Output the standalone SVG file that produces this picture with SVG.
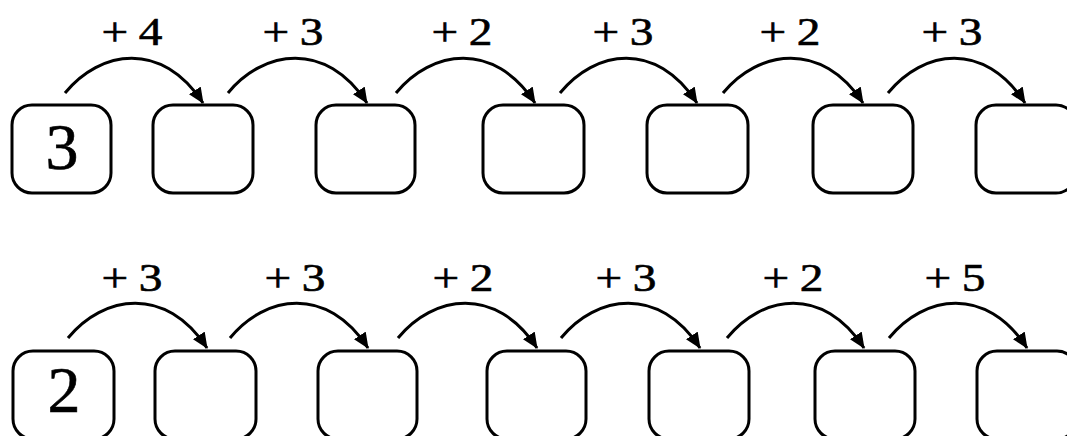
<svg xmlns="http://www.w3.org/2000/svg" width="1067" height="436" viewBox="0 0 1067 436">
<style>
.box{fill:#fff;stroke:#000;stroke-width:3}
.arc{fill:none;stroke:#000;stroke-width:3}
.lbl{font-family:"Liberation Serif","Times New Roman",serif;font-size:40px;fill:#000;stroke:#000;stroke-width:0.6;text-anchor:middle;word-spacing:-1px}
.num{font-family:"Liberation Serif","Times New Roman",serif;font-size:66px;fill:#000;stroke:#000;stroke-width:0.6;text-anchor:middle}
</style>
<defs>
<marker id="ah" viewBox="0 0 16 14" refX="15" refY="7" markerWidth="16" markerHeight="14" markerUnits="userSpaceOnUse" orient="auto">
<path d="M0,0 L16,7 L0,14 z" fill="#000"/>
</marker>
</defs>
<rect width="1067" height="436" fill="#fff"/>
<g id="connectors">
<path class="arc" marker-end="url(#ah)" d="M65,93 C100,50 162,40 203,103"/>
<path class="arc" marker-end="url(#ah)" d="M228,93 C263,50 326,40 367,103"/>
<path class="arc" marker-end="url(#ah)" d="M396,93 C431,50 494,40 535,103"/>
<path class="arc" marker-end="url(#ah)" d="M560,93 C595,50 656,40 697,103"/>
<path class="arc" marker-end="url(#ah)" d="M723,93 C758,50 822,40 863,103"/>
<path class="arc" marker-end="url(#ah)" d="M888,93 C923,50 984,40 1025,103"/>
<path class="arc" marker-end="url(#ah)" d="M68,338 C103,295 166,285 207,348"/>
<path class="arc" marker-end="url(#ah)" d="M230,338 C265,295 327,285 368,348"/>
<path class="arc" marker-end="url(#ah)" d="M398,338 C433,295 496,285 537,348"/>
<path class="arc" marker-end="url(#ah)" d="M561,338 C596,295 659,285 700,348"/>
<path class="arc" marker-end="url(#ah)" d="M727,338 C762,295 823,285 864,348"/>
<path class="arc" marker-end="url(#ah)" d="M889,338 C924,295 986,285 1027,348"/>
</g>
<g id="labels">
<text class="lbl" x="132" y="45" textLength="61" lengthAdjust="spacingAndGlyphs">+ 4</text>
<text class="lbl" x="293" y="45" textLength="61" lengthAdjust="spacingAndGlyphs">+ 3</text>
<text class="lbl" x="462" y="45" textLength="61" lengthAdjust="spacingAndGlyphs">+ 2</text>
<text class="lbl" x="623" y="45" textLength="61" lengthAdjust="spacingAndGlyphs">+ 3</text>
<text class="lbl" x="790" y="45" textLength="61" lengthAdjust="spacingAndGlyphs">+ 2</text>
<text class="lbl" x="952" y="45" textLength="61" lengthAdjust="spacingAndGlyphs">+ 3</text>
<text class="lbl" x="132" y="291" textLength="61" lengthAdjust="spacingAndGlyphs">+ 3</text>
<text class="lbl" x="295" y="291" textLength="61" lengthAdjust="spacingAndGlyphs">+ 3</text>
<text class="lbl" x="463" y="291" textLength="61" lengthAdjust="spacingAndGlyphs">+ 2</text>
<text class="lbl" x="626" y="291" textLength="61" lengthAdjust="spacingAndGlyphs">+ 3</text>
<text class="lbl" x="793" y="291" textLength="61" lengthAdjust="spacingAndGlyphs">+ 2</text>
<text class="lbl" x="955" y="291" textLength="61" lengthAdjust="spacingAndGlyphs">+ 5</text>
</g>
<g id="row1-n1"><rect class="box" x="12" y="105" width="99" height="88" rx="20"/><text class="num" x="62" y="169">3</text></g>
<g id="row1-n2"><rect class="box" x="153" y="105" width="100" height="88" rx="20"/></g>
<g id="row1-n3"><rect class="box" x="316" y="105" width="99" height="88" rx="20"/></g>
<g id="row1-n4"><rect class="box" x="483" y="105" width="101" height="88" rx="20"/></g>
<g id="row1-n5"><rect class="box" x="647" y="105" width="101" height="88" rx="20"/></g>
<g id="row1-n6"><rect class="box" x="813" y="105" width="100" height="88" rx="20"/></g>
<g id="row1-n7"><rect class="box" x="976" y="105" width="100" height="88" rx="20"/></g>
<g id="row2-n1"><rect class="box" x="13" y="351" width="101" height="88" rx="20"/><text class="num" x="64" y="412">2</text></g>
<g id="row2-n2"><rect class="box" x="155" y="351" width="101" height="88" rx="20"/></g>
<g id="row2-n3"><rect class="box" x="318" y="351" width="99" height="88" rx="20"/></g>
<g id="row2-n4"><rect class="box" x="487" y="351" width="99" height="88" rx="20"/></g>
<g id="row2-n5"><rect class="box" x="649" y="351" width="100" height="88" rx="20"/></g>
<g id="row2-n6"><rect class="box" x="815" y="351" width="100" height="88" rx="20"/></g>
<g id="row2-n7"><rect class="box" x="977" y="351" width="100" height="88" rx="20"/></g>
</svg>
